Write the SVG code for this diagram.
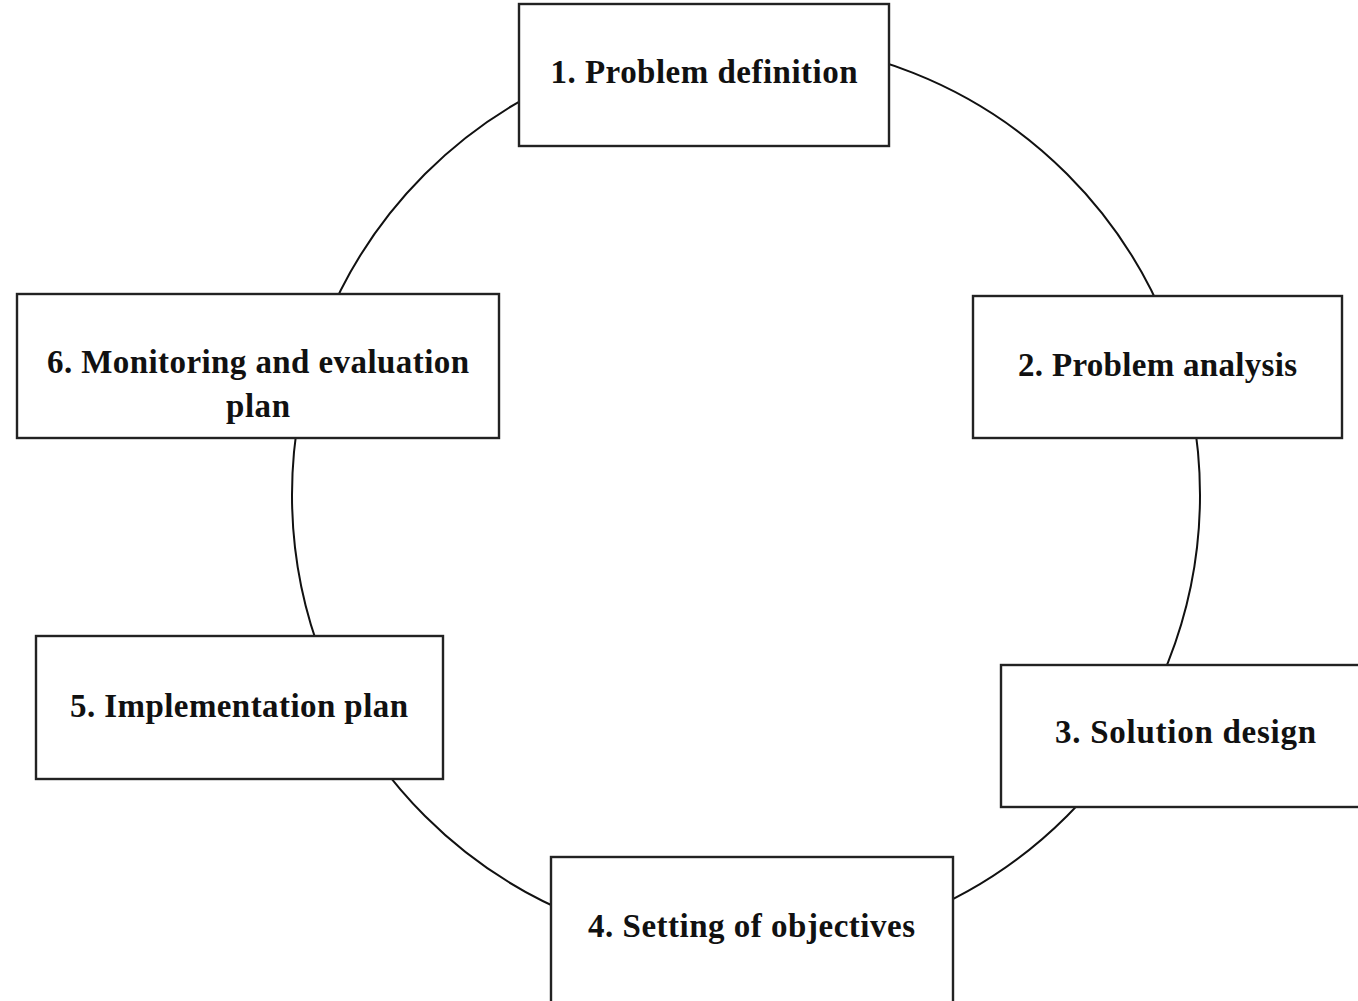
<svg xmlns="http://www.w3.org/2000/svg" width="1358" height="1001" viewBox="0 0 1358 1001">
<style>
.box{fill:#fff;stroke:#222;stroke-width:2.4}
.conn{fill:none;stroke:#111;stroke-width:2}
.lbl{font-family:"Liberation Serif","DejaVu Serif",serif;font-weight:bold;font-size:33px;fill:#111;text-anchor:middle}
</style>
<rect width="1358" height="1001" fill="#fff"/>
<g id="connectors">
<circle class="conn" cx="746" cy="495" r="454"/>
</g>
<g id="node1">
<rect class="box" x="519" y="4" width="370" height="142"/>
<text class="lbl" x="704" y="83" textLength="307">1. Problem definition</text>
</g>
<g id="node2">
<rect class="box" x="973" y="296" width="369" height="142"/>
<text class="lbl" x="1157.5" y="376" textLength="279">2. Problem analysis</text>
</g>
<g id="node3">
<rect class="box" x="1001" y="665" width="380" height="142"/>
<text class="lbl" x="1185.5" y="743" textLength="261">3. Solution design</text>
</g>
<g id="node4">
<rect class="box" x="551" y="857" width="402" height="150"/>
<text class="lbl" x="751.5" y="937" textLength="327">4. Setting of objectives</text>
</g>
<g id="node5">
<rect class="box" x="36" y="636" width="407" height="143"/>
<text class="lbl" x="239" y="717" textLength="338">5. Implementation plan</text>
</g>
<g id="node6">
<rect class="box" x="17" y="294" width="482" height="144"/>
<text class="lbl" x="258" y="373" textLength="422">6. Monitoring and evaluation</text>
<text class="lbl" x="258" y="417" textLength="64">plan</text>
</g>
</svg>
